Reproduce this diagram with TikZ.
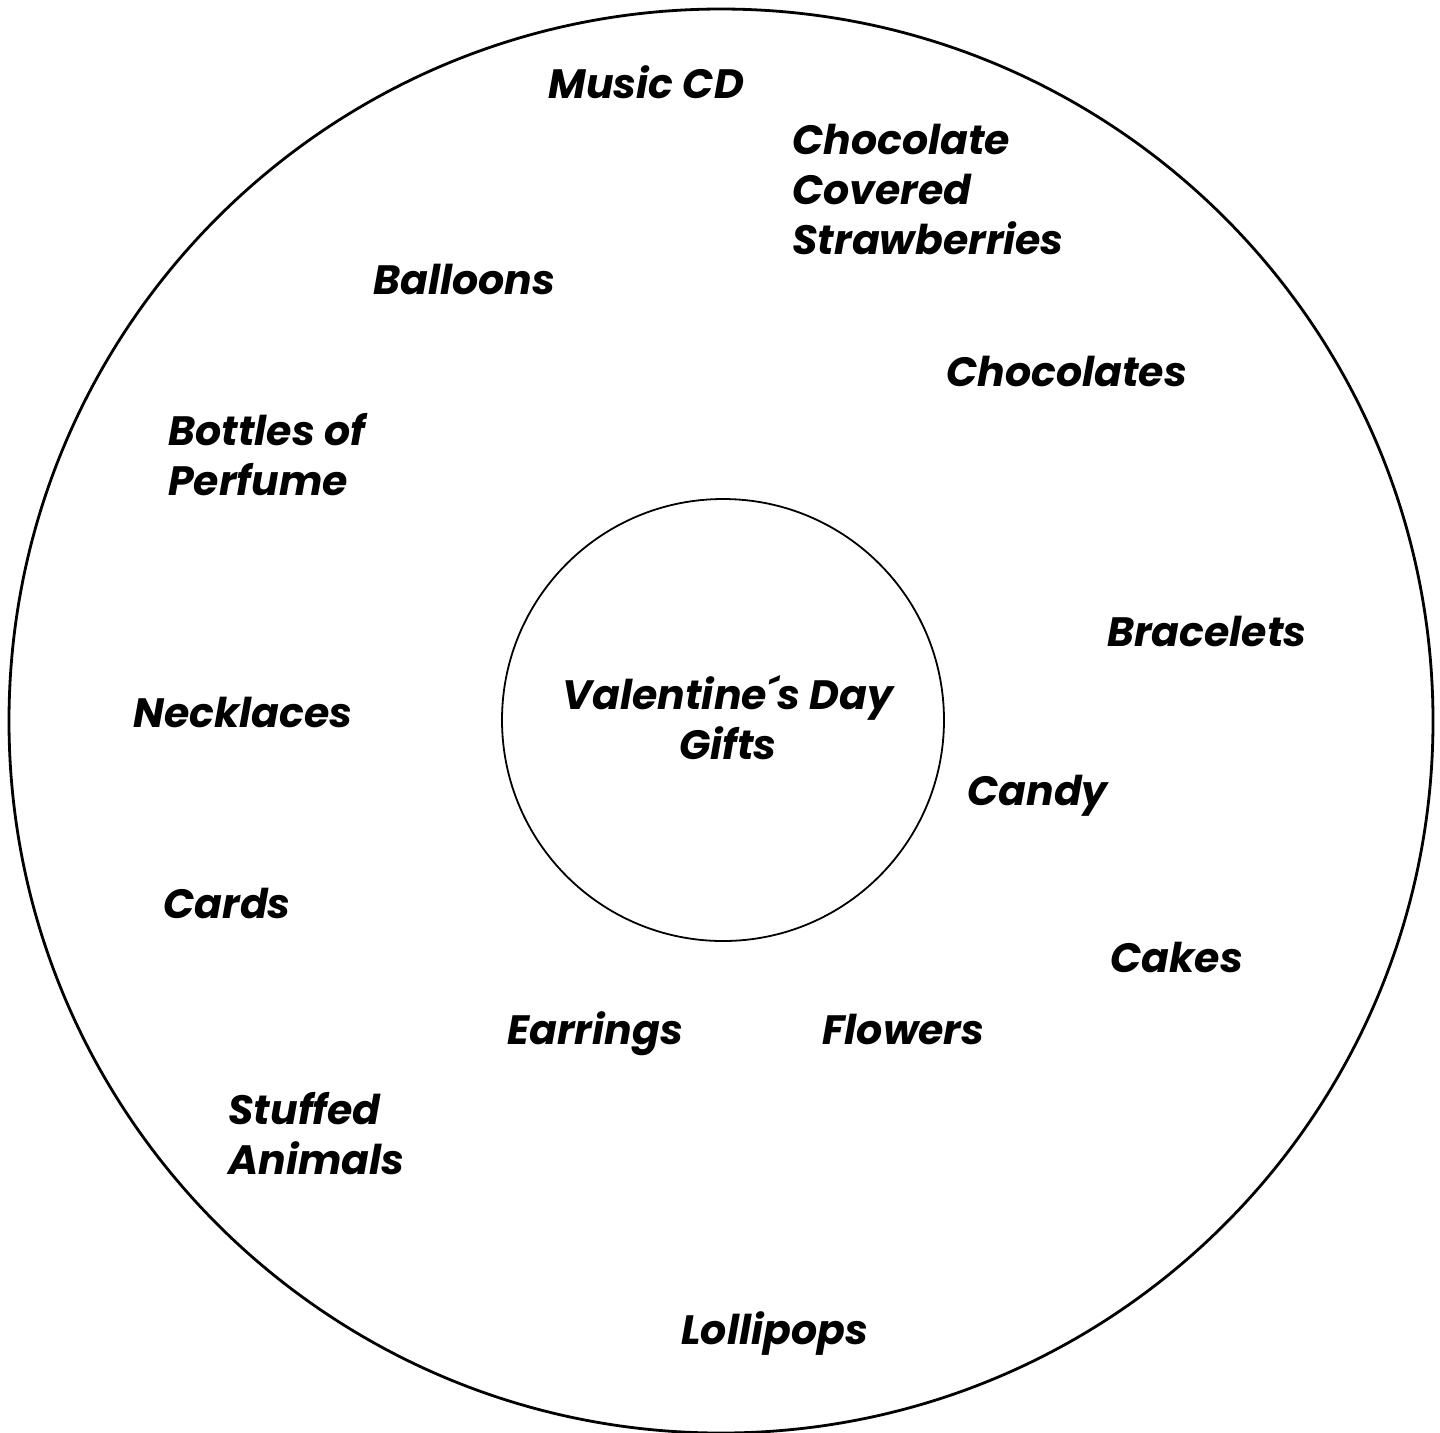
\documentclass[tikz,border=0pt]{standalone}
\usepackage{fontspec}
\setmainfont{Poppins}
\usepackage{tikz}
\usetikzlibrary{positioning}

\begin{document}
\begin{tikzpicture}[
        x=0.5pt, y=-0.5pt,
        font=\fontsize{20.5}{25}\selectfont\bfseries\itshape,
        ring/.style={draw, line width=1.4pt, circle, inner sep=0pt},
        hub/.style={draw, line width=0.9pt, circle, inner sep=0pt,
            minimum size=221pt, align=center},
        gift/.style={inner sep=0pt, anchor=base west, align=left}
    ]
        \useasboundingbox (0,0) rectangle (1440,1432);

        % The frame and the topic in the middle.
        \node[ring, minimum size=712pt] (frame) at (721,721) {};
        \node[hub] (topic) at (723,720) {};
        % (base of a multi-line node = baseline of its last line)
        \node[inner sep=0pt, align=center, anchor=base] (title) at (728,759)
            {Valentine´s Day\\Gifts};

        % Gifts around the topic.
        \node[gift] (cd) at (548,98) {Music CD};
        \node[gift] (berries) at (792,254) {Chocolate\\Covered\\Strawberries};
        \node[gift] (balloons) at (373,294) {Balloons};
        \node[gift] (chocolates) at (946,386) {Chocolates};
        \node[gift] (perfume) at (168,495) {Bottles of\\Perfume};
        \node[gift] (bracelets) at (1107,646) {Bracelets};
        \node[gift] (necklaces) at (133,727) {Necklaces};
        \node[gift] (candy) at (967,805) {Candy};
        \node[gift] (cards) at (163,918) {Cards};
        \node[gift] (cakes) at (1110,972) {Cakes};
        \node[gift] (earrings) at (507,1044) {Earrings};
        \node[gift] (flowers) at (822,1044) {Flowers};
        \node[gift] (animals) at (228,1174) {Stuffed\\Animals};
        \node[gift] (lollipops) at (681,1344) {Lollipops};
    \end{tikzpicture}
\end{document}
